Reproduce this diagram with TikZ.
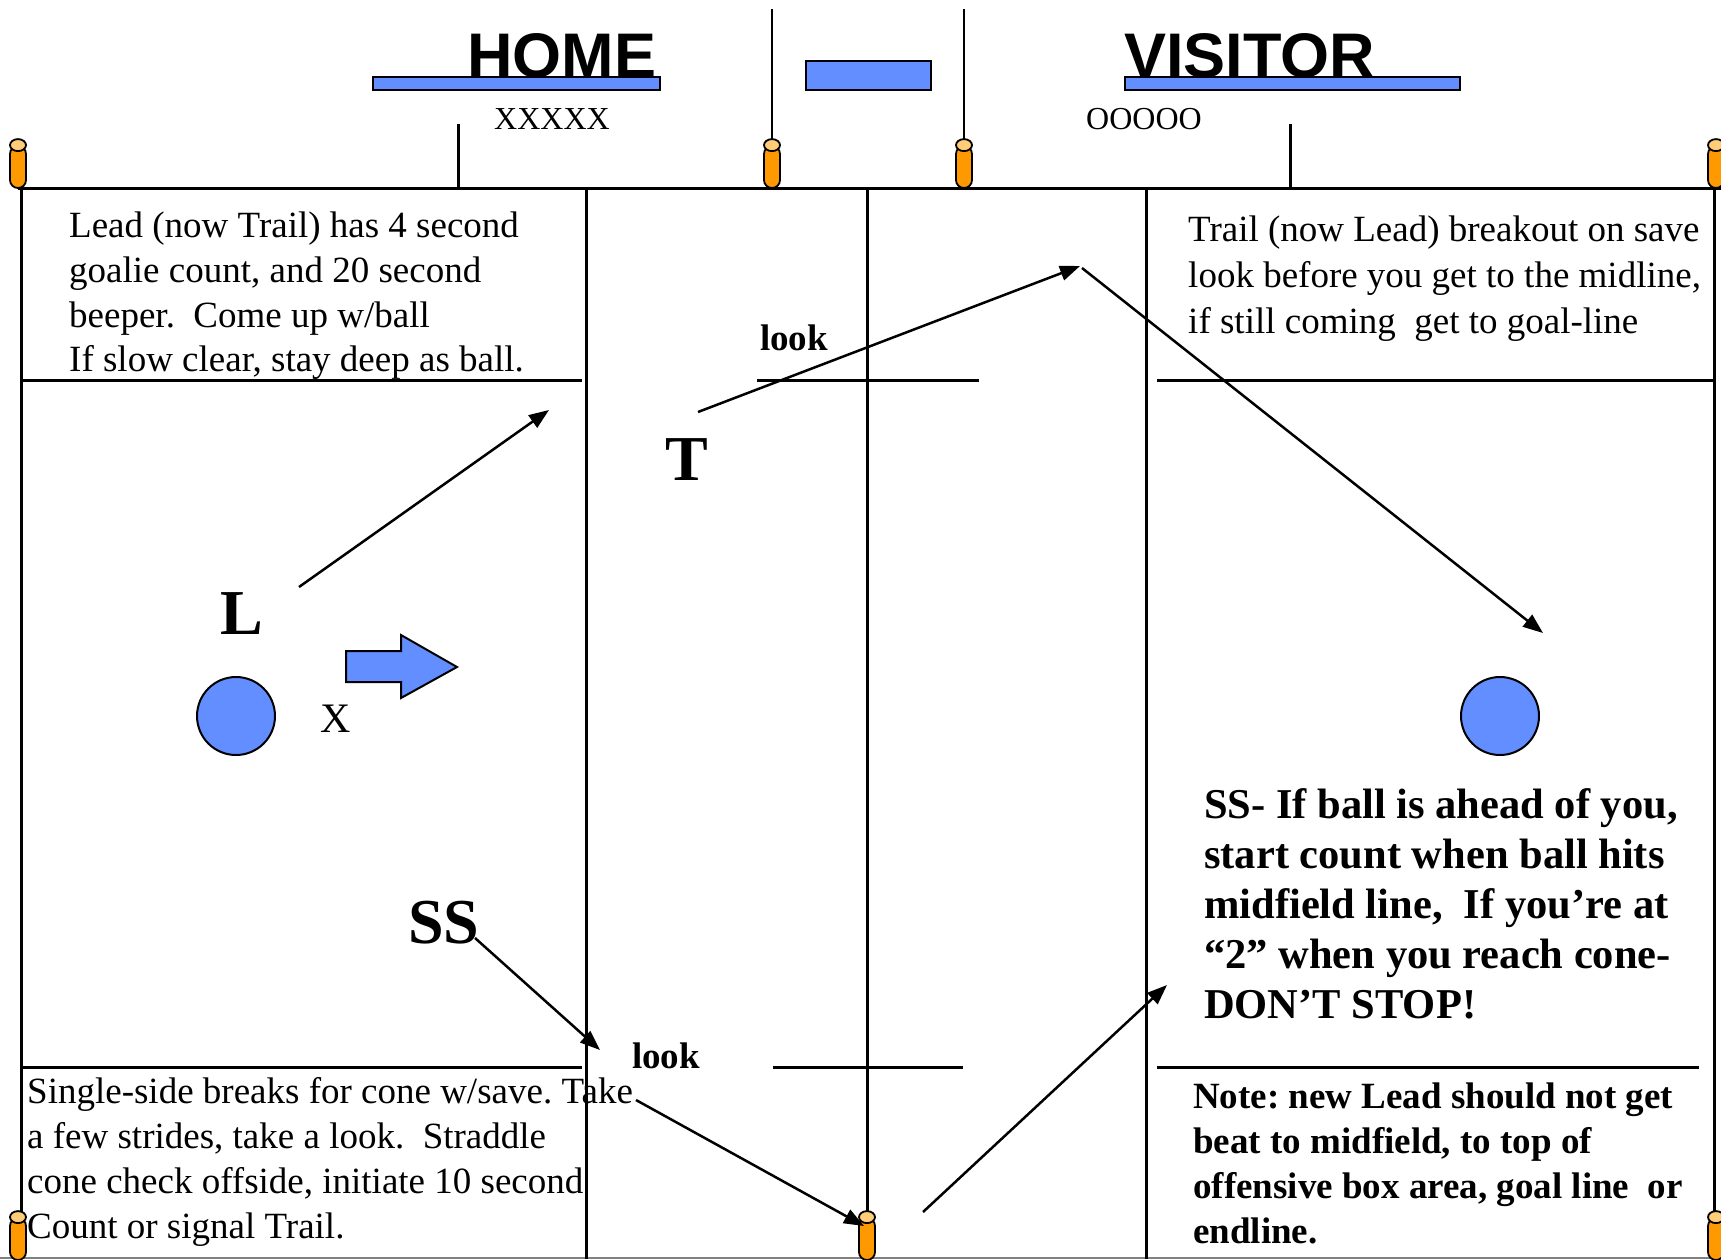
\documentclass[tikz,border=0pt]{standalone}
\usepackage{fontspec}
\setmainfont{Liberation Serif}
\newfontfamily\headfont{Liberation Sans}
\usetikzlibrary{arrows.meta,shapes.geometric}
\definecolor{padblue}{RGB}{98,142,255}
\definecolor{coneorange}{RGB}{255,153,0}
\definecolor{conelight}{RGB}{255,204,119}
\frenchspacing
\begin{document}
\begin{tikzpicture}[x=1pt,y=-1pt,
  field/.style={line width=3pt},
  run/.style={line width=2.5pt,-{Triangle[length=20pt,width=15pt]}},
  cone/.style={shape=rectangle,rounded corners=8pt,draw=black,line width=1.8pt,fill=coneorange,minimum width=16pt,minimum height=42pt,inner sep=0pt},
  conetop/.style={shape=ellipse,draw=black,line width=1.8pt,fill=conelight,minimum width=16pt,minimum height=12pt,inner sep=0pt},
  note/.style={anchor=north west,align=left,inner sep=0pt},
  letter/.style={anchor=base west,inner sep=0pt,font=\fontsize{64}{64}\selectfont\bfseries}]
  \useasboundingbox (0,0) rectangle (1721,1259);
  % field lines
  \draw[field] (18,188) -- (1721,188);
  \draw[gray,line width=2pt] (0,1258) -- (1721,1258);
  \draw[field] (21,188) -- (21,1259);
  \draw[field] (586,188) -- (586,1259);
  \draw[field] (867,188) -- (867,1212);
  \draw[field] (1146,188) -- (1146,1259);
  \draw[field] (1714,188) -- (1714,1259);
  \draw[field] (458,124) -- (458,188);
  \draw[field] (1290,124) -- (1290,188);
  \draw[line width=2.5pt] (772,9) -- (772,140);
  \draw[line width=2.5pt] (964,9) -- (964,140);
  \draw[field] (21,380) -- (582,380);
  \draw[field] (757,380) -- (979,380);
  \draw[field] (1157,380) -- (1714,380);
  \draw[field] (21,1067) -- (582,1067);
  \draw[field] (773,1067) -- (963,1067);
  \draw[field] (1157,1067) -- (1699,1067);
  % benches and table
  \draw[fill=padblue,line width=1.8pt] (373,77) rectangle (660,90);
  \draw[fill=padblue,line width=1.8pt] (806,61) rectangle (931,90);
  \draw[fill=padblue,line width=1.8pt] (1125,77) rectangle (1460,90);
  \node[anchor=base west,inner sep=0pt,font=\headfont\fontsize{63}{63}\selectfont\bfseries] (home) at (467,77) {HOME};
  \node[anchor=base west,inner sep=0pt,font=\headfont\fontsize{63}{63}\selectfont\bfseries] (visitor) at (1124,77) {VISITOR};
  \node[anchor=base west,inner sep=0pt,font=\fontsize{32}{32}\selectfont] (homeplayers) at (494,129) {XXXXX};
  \node[anchor=base west,inner sep=0pt,font=\fontsize{32}{32}\selectfont] (visplayers) at (1086,129) {OOOOO};
  % cones
  \node[cone] (c1) at (18,167) {};
  \node[conetop] at (c1.north) {};
  \node[cone] (c2) at (772,167) {};
  \node[conetop] at (c2.north) {};
  \node[cone] (c3) at (964,167) {};
  \node[conetop] at (c3.north) {};
  \node[cone] (c4) at (1716,167) {};
  \node[conetop] at (c4.north) {};
  \node[cone] (c5) at (18,1239) {};
  \node[conetop] at (c5.north) {};
  \node[cone] (c6) at (867,1239) {};
  \node[conetop] at (c6.north) {};
  \node[cone] (c7) at (1716,1239) {};
  \node[conetop] at (c7.north) {};
  % goals
  \node[shape=circle,draw=black,line width=2pt,fill=padblue,minimum size=78pt,inner sep=0pt] (goalleft) at (236,716) {};
  \node[shape=circle,draw=black,line width=2pt,fill=padblue,minimum size=78pt,inner sep=0pt] (goalright) at (1500,716) {};
  \draw[fill=padblue,line width=2pt] (346,651) -- (401,651) -- (401,635) -- (457,667) -- (401,698) -- (401,682) -- (346,682) -- cycle;
  % officials
  \node[letter] (lead) at (220,634) {L};
  \node[letter] (trail) at (665,480) {T};
  \node[letter] (single) at (408,943) {SS};
  \node[anchor=base west,inner sep=0pt,font=\fontsize{42}{42}\selectfont] (ball) at (320,732) {X};
  \node[anchor=base west,inner sep=0pt,font=\fontsize{37}{37}\selectfont\bfseries] (looktop) at (760,350) {look};
  \node[anchor=base west,inner sep=0pt,font=\fontsize{37}{37}\selectfont\bfseries] (lookbottom) at (632,1068) {look};
  % notes
  \node[note,font=\fontsize{37}{44.7}\selectfont] (leadnote) at (69,212) {Lead (now Trail) has 4 second\\goalie count, and 20 second\\beeper.\ \ Come up w/ball\\If slow clear, stay deep as ball.};
  \node[note,font=\fontsize{37}{46}\selectfont] (trailnote) at (1188,216) {Trail (now Lead) breakout on save\\look before you get to the midline,\\if still coming\ \ get to goal-line};
  \node[note,font=\fontsize{37}{45}\selectfont] (ssnote) at (27,1077) {Single-side breaks for cone w/save. Take\\a few strides, take a look.\ \ Straddle\\cone check offside, initiate 10 second\\Count or signal Trail.};
  \node[note,font=\fontsize{42.5}{50}\selectfont\bfseries] (ssrule) at (1204,788) {SS- If ball is ahead of you,\\start count when ball hits\\midfield line,\ \ If you’re at\\“2” when you reach cone-\\DON’T STOP!};
  \node[note,font=\fontsize{37}{45}\selectfont\bfseries] (leadrule) at (1193,1083) {Note: new Lead should not get\\beat to midfield, to top of\\offensive box area, goal line\ \ or\\endline.};
  % runs
  \coordinate (leadgo) at (299,587);
  \coordinate (leadend) at (549,410);
  \coordinate (trailgo) at (698,412);
  \coordinate (trailmid) at (1080,266);
  \coordinate (trailturn) at (1082,268);
  \coordinate (trailend) at (1543,633);
  \coordinate (ssgo) at (475,938);
  \coordinate (ssmid) at (600,1050);
  \coordinate (ssturn) at (636,1100);
  \coordinate (ssend) at (864,1226);
  \coordinate (newgo) at (923,1212);
  \coordinate (newend) at (1167,985);
  \path [run] (leadgo) edge (leadend);
  \path [run] (trailgo) edge (trailmid);
  \path [run] (trailturn) edge (trailend);
  \path [run] (ssgo) edge (ssmid);
  \path [run] (ssturn) edge (ssend);
  \path [run] (newgo) edge (newend);
\end{tikzpicture}
\end{document}
